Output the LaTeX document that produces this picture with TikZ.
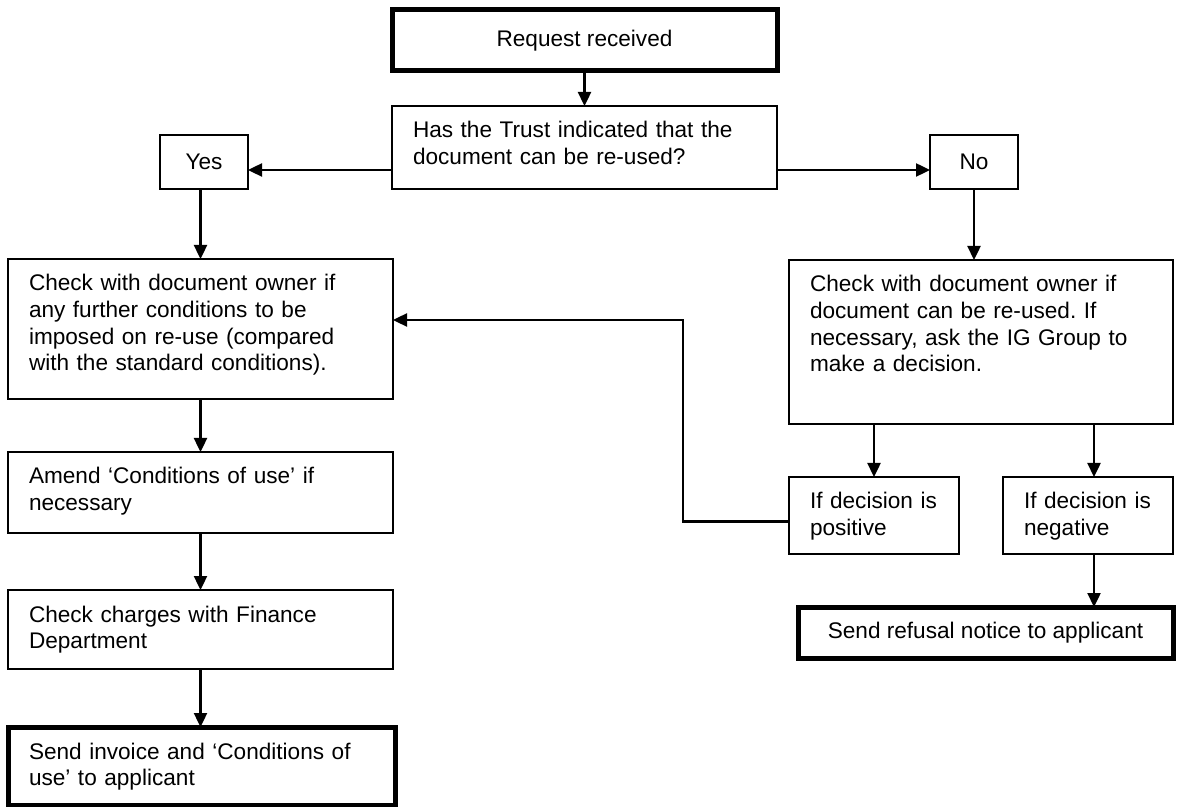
\documentclass[tikz,border=0pt]{standalone}
\usepackage{fontspec}
\setmainfont{Liberation Sans}
\usepackage{tikz}
\usetikzlibrary{arrows.meta, positioning}
\frenchspacing

\begin{document}
\begin{tikzpicture}[x=0.5pt, y=-0.5pt, font=\fontsize{11.3}{13.3}\selectfont,
  >={Triangle[length=7pt,width=6.5pt]}]
\tikzstyle{step box}=[draw, line width=1pt, outer sep=0pt, anchor=north west, align=left, inner xsep=10.5pt, inner ysep=0pt, text height=16pt]
\tikzstyle{answer}=[draw, line width=1pt, outer sep=0pt, inner sep=0pt, minimum width=44pt, minimum height=27pt]
\tikzstyle{end box}=[draw, line width=2.5pt, outer sep=0pt, inner sep=0pt]
\tikzstyle{flow}=[->, line width=1.2pt]
\useasboundingbox (0,0) rectangle (1178,807);

\node (req) [end box, minimum width=192.5pt, minimum height=30.5pt] at (584.5,40.5) {Request received};
\node (has) [step box, text width=171.5pt, text depth=25.5pt] at (392,106) {Has the Trust indicated that the\\document can be re-used?};
\node (yes) [answer] at (204,162) {Yes};
\node (no) [answer] at (974,162) {No};

% yes branch
\node (chkl) [step box, text width=171.5pt, text depth=54pt] at (8,259) {Check with document owner if\\any further conditions to be\\imposed on re-use (compared\\with the standard conditions).};
\node (amend) [step box, text width=171.5pt, text depth=24.5pt] at (8,452) {Amend ‘Conditions of use’ if\\necessary};
\node (charges) [step box, text width=171.5pt, text depth=23.5pt] at (8,590) {Check charges with Finance\\Department};
\node (invoice) [step box, end box, inner xsep=10.5pt, text width=172.5pt, text depth=23pt] at (8,727) {Send invoice and ‘Conditions of\\use’ to applicant};

% no branch
\node (chkr) [step box, text width=171pt, text depth=66pt] at (789,260) {Check with document owner if\\document can be re-used. If\\necessary, ask the IG Group to\\make a decision.};
\node (pos) [step box, text width=64pt, text depth=22.5pt] at (789,477) {If decision is\\positive};
\node (neg) [step box, text width=64pt, text depth=22.5pt] at (1003,477) {If decision is\\negative};
\node (refuse) [end box, minimum width=187.5pt, minimum height=25.5pt] at (985.5,632.5) {Send refusal notice to applicant};

\draw [flow] (req.south) -- (has.north);
\draw [flow] ([yshift=-11.25pt]has.west) -- ([yshift=-11.25pt]has.west -| yes.east);
\draw [flow] ([yshift=-11.25pt]has.east) -- ([yshift=-11.25pt]has.east -| no.west);
\draw [flow] (chkl.north |- yes.south) -- (chkl.north);
\draw [flow] (chkl.south) -- (amend.north);
\draw [flow] (amend.south) -- (charges.north);
\draw [flow] (charges.south) -- (charges.south |- invoice.north);
\draw [flow] (no.south) -- (no.south |- chkr.north);
\draw [flow] (pos.north |- chkr.south) -- (pos.north);
\draw [flow] ([xshift=3pt]neg.north |- chkr.south) -- ([xshift=3pt]neg.north);
\draw [flow] ([xshift=3pt]neg.south) -- ([xshift=3pt]neg.south |- refuse.north);
\draw [flow] ([yshift=-3pt]pos.west) -- ++(-53pt,0) |- ([yshift=4.5pt]chkl.east);

\end{tikzpicture}
\end{document}
